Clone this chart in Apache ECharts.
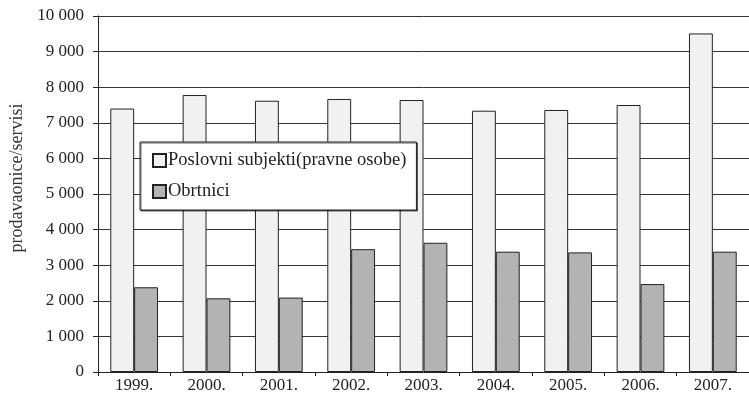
<!DOCTYPE html>
<html>
<head>
<meta charset="utf-8">
<script src="https://cdn.jsdelivr.net/npm/echarts@6/dist/echarts.min.js"></script>
<style>
html,body{margin:0;padding:0;background:#fff;}
#c{width:749px;height:394px;}
</style>
</head>
<body>
<div id="c"></div>
<script>
const years = ['1999.', '2000.', '2001.', '2002.', '2003.', '2004.', '2005.', '2006.', '2007.'];
const poslovniSubjekti = [7400, 7780, 7620, 7670, 7640, 7340, 7360, 7500, 9510];
const obrtnici = [2380, 2070, 2090, 3450, 3630, 3380, 3360, 2470, 3380];
const seriesNames = ['Poslovni subjekti(pravne osobe)', 'Obrtnici'];
const yAxisName = 'prodavaonice/servisi';

const font = 'Liberation Serif, Times New Roman, serif';
const chart = echarts.init(document.getElementById('c'), null, {renderer: 'canvas'});
chart.setOption({
  animation: false,
  backgroundColor: '#fff',
  textStyle: {fontFamily: font, color: '#222'},
  grid: {left: 97, top: 16, right: 0, bottom: 22, containLabel: false},
  legend: {
    orient: 'vertical',
    left: 140, top: 142,
    data: seriesNames,
    icon: 'rect',
    itemWidth: 13, itemHeight: 13,
    itemGap: 12,
    padding: [9, 10, 9, 12],
    backgroundColor: '#fff',
    borderColor: '#222',
    borderWidth: 1,
    shadowColor: 'rgba(0,0,0,0.6)',
    shadowOffsetX: 1, shadowOffsetY: 1, shadowBlur: 0,
    textStyle: {fontFamily: font, fontSize: 18.5, color: '#222', padding: [0, 0, 0, -3]}
  },
  xAxis: {
    type: 'category',
    data: years,
    axisLine: {lineStyle: {color: '#222', width: 1}},
    axisTick: {show: true, alignWithLabel: false, length: 4, lineStyle: {color: '#222'}},
    axisLabel: {fontFamily: font, fontSize: 17, color: '#222', margin: 5}
  },
  yAxis: {
    type: 'value',
    min: 0, max: 10000, interval: 1000,
    name: yAxisName,
    nameLocation: 'middle',
    nameRotate: 90,
    nameGap: 72,
    nameTextStyle: {fontFamily: font, fontSize: 18, color: '#333', padding: [0, 0, 0, 32]},
    axisLine: {show: true, lineStyle: {color: '#222', width: 1}},
    axisTick: {show: true, length: 5, lineStyle: {color: '#222'}},
    axisLabel: {
      fontFamily: font, fontSize: 17, color: '#222', margin: 14,
      formatter: v => String(v).replace(/\B(?=(\d{3})+(?!\d))/g, ' ')
    },
    splitLine: {show: true, lineStyle: {color: '#333', width: 1}}
  },
  series: [
    {
      name: seriesNames[0], type: 'bar', data: poslovniSubjekti,
      barGap: '0%', barCategoryGap: '34%',
      itemStyle: {color: '#f1f1f1', borderColor: '#222', borderWidth: 1}
    },
    {
      name: seriesNames[1], type: 'bar', data: obrtnici,
      itemStyle: {color: '#b3b3b3', borderColor: '#222', borderWidth: 1}
    }
  ]
});
</script>
</body>
</html>
